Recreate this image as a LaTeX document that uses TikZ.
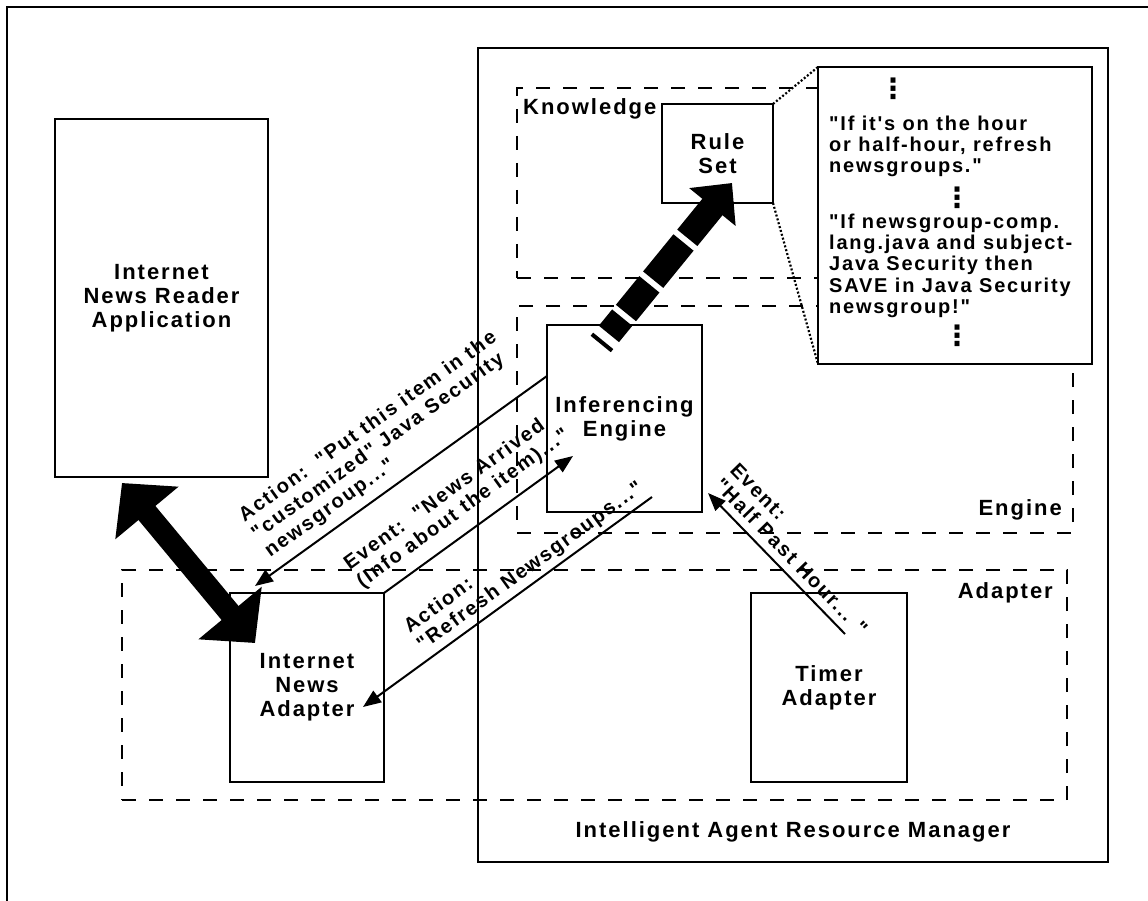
\documentclass[tikz,border=0pt]{standalone}
\usepackage{fontspec}
\setmainfont{Liberation Sans}[LetterSpace=9, Ligatures=TeXOff]
\newfontfamily\dotsfont{DejaVu Sans}
\usepackage{tikz}
\usetikzlibrary{arrows.meta, positioning, calc}
\newcommand{\blockfont}{\fontsize{22}{24}\selectfont\bfseries}
\newcommand{\notefont}{\fontsize{20}{22}\selectfont\bfseries}
\newcommand{\rulefont}{\fontsize{20}{21.4}\selectfont\bfseries}
\newcommand{\ruledots}{{\dotsfont\bfseries\fontsize{28}{28}\selectfont ⋮}}
\tikzstyle{block} = [rectangle, draw=black, line width=2pt, fill=white, align=center, font=\blockfont, inner sep=0pt, outer sep=0pt]
\tikzstyle{zone} = [rectangle, draw=black, line width=2.5pt, dash pattern=on 14pt off 13pt, inner sep=0pt, outer sep=0pt]
\tikzstyle{zonelabel} = [font=\blockfont, inner sep=0pt]
\tikzstyle{msg} = [font=\notefont, align=left, inner sep=0pt]
\tikzstyle{zoomline} = [line width=2.2pt, dash pattern=on 2pt off 2pt]
\tikzstyle{arrow} = [line width=2pt, -{Triangle[length=18pt,width=14pt]}]
\begin{document}
\begin{tikzpicture}[x=1pt, y=-1pt]
\useasboundingbox (0,0) rectangle (1148,901);
\draw[line width=2.5pt] (7,901) -- (7,7) -- (1148,7);

% manager and its zones
\node (iarm) [rectangle, draw, line width=2pt, minimum width=630pt, minimum height=814pt] at (793,455) {};
\node (iarmlabel) [zonelabel] at (793,832) {Intelligent Agent Resource Manager};
\node (knowzone) [zone, minimum width=556pt, minimum height=190pt] at (795,183) {};
\node (enginezone) [zone, minimum width=556pt, minimum height=227pt] at (795,419.5) {};
\node (adapterzone) [zone, minimum width=945pt, minimum height=230pt] at (594.5,685) {};
\node (knowlabel) [zonelabel, anchor=west] at (523,109) {Knowledge};
\node (enginelabel) [zonelabel, anchor=east] at (1062,510) {Engine};
\node (adapterlabel) [zonelabel, anchor=east] at (1053,593) {Adapter};

% components
\node (app) [block, minimum width=213pt, minimum height=358pt] at (161.5,298) {Internet\\News Reader\\Application};
\node (ruleset) [block, minimum width=111pt, minimum height=99pt] at (717.5,153.5) {Rule\\Set};
\node (engine) [block, minimum width=155pt, minimum height=187pt] at (624.5,418.5) {Inferencing\\Engine};
\node (newsadapter) [block, minimum width=154pt, minimum height=189pt] at (307,687.5) {Internet\\News\\Adapter};
\node (timer) [block, minimum width=156pt, minimum height=189pt] at (829,687.5) {Timer\\Adapter};

% zoomed rule set
\node (rules) [block, minimum width=274pt, minimum height=297pt] at (955,215.5) {};
\draw [zoomline] (ruleset.north east) -- (rules.north west);
\draw [zoomline] (ruleset.south east) -- (rules.south west);
\node (dotsa) [inner sep=0pt] at ($(rules.north west)+(75,21.5)$) {\ruledots};
\node (rulehour) [msg, font=\rulefont, anchor=north west] at ($(rules.north west)+(11,48.4)$) {"If it's on the hour\\or half-hour, refresh\\newsgroups."};
\node (dotsb) [inner sep=0pt] at ($(rules.north west)+(139,130.5)$) {\ruledots};
\node (rulesave) [msg, font=\rulefont, anchor=north west] at ($(rules.north west)+(11,146.4)$) {"If newsgroup-comp.\\lang.java and subject-\\Java Security then\\SAVE in Java Security\\newsgroup!"};
\node (dotsc) [inner sep=0pt] at ($(rules.north west)+(139,269)$) {\ruledots};

% messages
\draw [arrow] ($(engine.west)+(0,-42.5)$) -- ($(newsadapter.north west)+(25,-7)$);
\draw [arrow] (newsadapter.north east) -- ($(engine.south west)+(26,-56)$);
\draw [arrow] ($(engine.south west)+(105,-15)$) -- ($(newsadapter.east)+(-21,19.5)$);
\draw [arrow] ($(timer.north west)+(94,41)$) -- ($(engine.south east)+(6,-19)$);
\node (actput) [msg, rotate=35.7] at (381,445) {Action:\ \ "Put this item in the\\"customized" Java Security\\newsgroup..."};
\node (evnews) [msg, rotate=35.9] at (457,500) {Event:\ \ "News Arrived\\(Info about the item)..."};
\node (actrefresh) [msg, rotate=36] at (524,558) {Action:\\"Refresh Newsgroups..."};
\node (evhour) [msg, rotate=-45.8] at (799,549) {Event:\\"Half Past Hour... "};

% big arrows
\draw [line width=22pt, {Triangle[length=39pt,width=80pt]}-{Triangle[length=39pt,width=80pt]}] ($(app.south west)+(67,6)$) -- ($(newsadapter.north west)+(25,50)$);
\draw [line width=26pt, dash pattern=on 4pt off 9pt on 21pt off 6pt on 37pt off 6pt on 48pt off 6pt on 100pt off 10pt, -{Triangle[length=31pt,width=58pt]}] ($(engine.north west)+(53.7,19)$) -- ($(ruleset.south)+(14.5,-20)$);
\end{tikzpicture}
\end{document}
